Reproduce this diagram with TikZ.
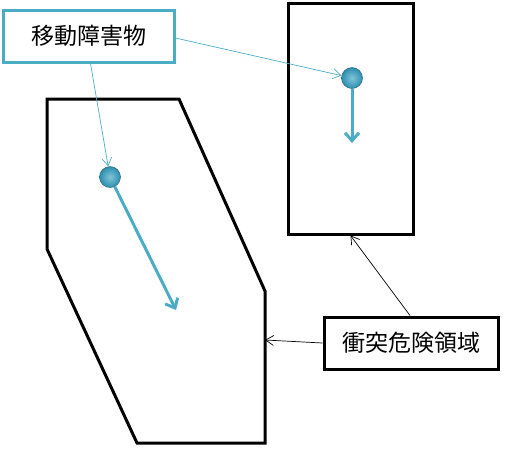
\documentclass[tikz,border=0pt]{standalone}
\usepackage{fontspec}
\newfontfamily\cjk{Noto Sans CJK JP}
\usetikzlibrary{arrows.meta}
\definecolor{aqua}{HTML}{4BACC6}
\definecolor{aquadeep}{HTML}{2A8FB0}
\begin{document}
\begin{tikzpicture}[x=1pt,y=-1pt,
  zone/.style={draw=black,line width=3pt,line join=miter},
  lbl/.style={draw,fill=white,line width=3pt,minimum width=#1,minimum height=52pt,inner sep=0pt,font=\cjk\fontsize{23}{25}\selectfont},
  obst/.style={circle,minimum size=21pt,inner sep=0pt,inner color=aqua!70!white,outer color=aquadeep,draw=aqua!60!black,line width=0.5pt},
  motion/.style={draw=aqua,line width=3pt,-{Straight Barb[length=8pt,width=14pt,line width=3pt]}},
  pointer/.style={draw=aqua,line width=0.7pt,-{Straight Barb[length=8pt,width=10pt]}},
  kpointer/.style={draw=black,line width=0.7pt,-{Straight Barb[length=8pt,width=10pt]}}]
\useasboundingbox (0,0) rectangle (509,456);
% zones
\draw[zone] (47,99) -- (179,99) -- (265,291) -- (265,443) -- (137,443) -- (47,249) -- cycle;
\coordinate (hexR) at (265,340);
\node[zone,minimum width=125pt,minimum height=231pt,inner sep=0pt] (rect) at (350.5,118.5) {};
% obstacles
\node[obst] (b1) at (110,177) {};
\node[obst] (b2) at (352,78) {};
\coordinate (t1) at (176,310);
\coordinate (t2) at (352,143);
\draw[motion] (b1) -- (t1);
\draw[motion] (b2) -- (t2);
% labels
\node[lbl=171pt,draw=aqua] (mv) at (88.5,36) {移動障害物};
\node[lbl=174pt] (zn) at (411,343) {衝突危険領域};
\draw[pointer] (mv.east) ++(0,2) -- (b2);
\draw[pointer] ([xshift=2pt]mv.south) -- (b1);
\draw[kpointer] ([xshift=-1pt]zn.north) -- ([xshift=0pt]rect.south);
\draw[kpointer] (zn.west) -- (hexR);
\end{tikzpicture}
\end{document}
